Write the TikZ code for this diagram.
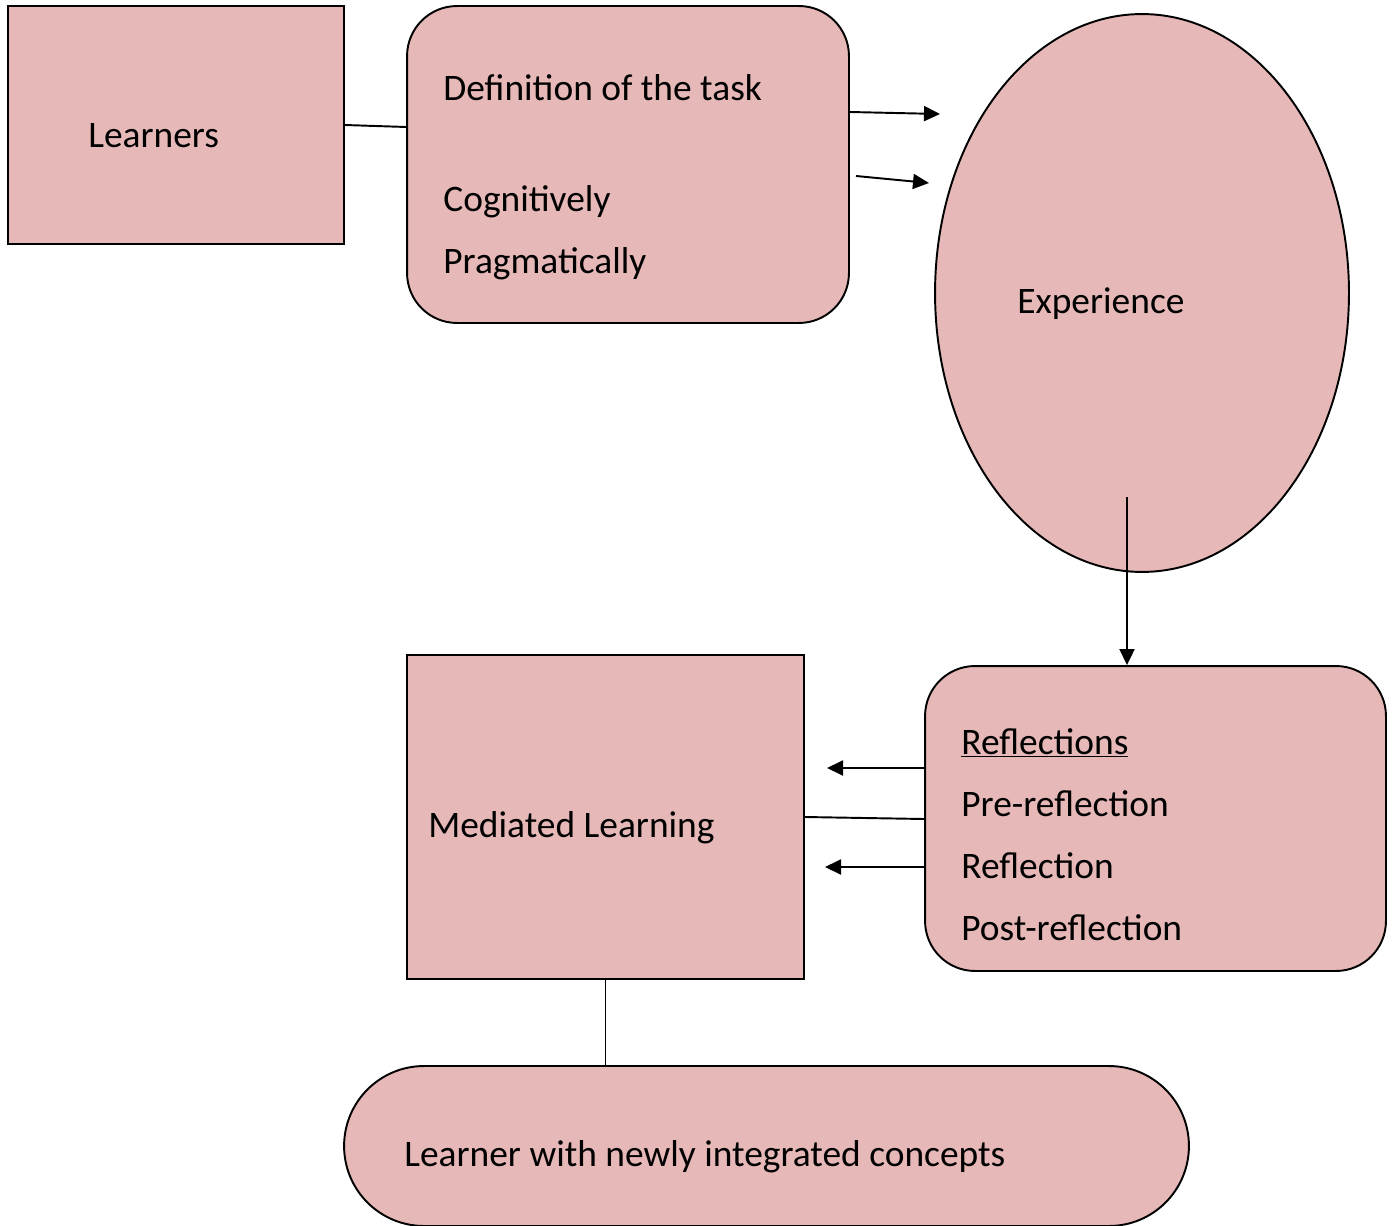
\documentclass[tikz,border=0pt]{standalone}
\usepackage{fontspec}
\setmainfont{Carlito}
\usepackage{tikz}
\usetikzlibrary{arrows.meta, shapes.geometric, calc}

\definecolor{pinkfill}{HTML}{E6B8B7}

\tikzset{
    shapebox/.style={draw=black, fill=pinkfill, line width=1.1pt, inner sep=0pt},
    txt/.style={anchor=west, inner sep=0pt, font=\fontsize{21.3}{25}\selectfont},
    arr/.style={line width=1.1pt, -{Triangle[length=0.32cm,width=0.3cm]}},
    plainline/.style={line width=1.1pt}
}

\begin{document}
\begin{tikzpicture}[x=0.02cm, y=-0.02cm]
        \useasboundingbox (0,0) rectangle (1395,1226);

        % boxes
        \node[shapebox, minimum width=6.72cm, minimum height=4.76cm] (learners) at (176,125) {};
        \node[shapebox, rounded corners=1cm, minimum width=8.84cm, minimum height=6.34cm] (task) at (628,164.5) {};
        \node[shapebox, ellipse, minimum width=8.28cm, minimum height=11.16cm] (exp) at (1142,293) {};
        \node[shapebox, rounded corners=1cm, minimum width=9.22cm, minimum height=6.1cm] (refl) at (1155.5,818.5) {};
        \node[shapebox, minimum width=7.94cm, minimum height=6.48cm] (mediated) at (605.5,817) {};
        \node[shapebox, rounded corners=1.6cm, minimum width=16.9cm, minimum height=3.2cm] (newlearner) at (766.5,1146) {};

        % texts
        \node[txt] (tlearners) at (88,136) {Learners};
        \node[txt] (tdef) at (443,88) {Definition of the task};
        \node[txt] (tcog) at (443,202) {Cognitively};
        \node[txt] (tprag) at (443,264) {Pragmatically};
        \node[txt] (texp) at (1017,304) {Experience};
        \node[txt] (trefl) at (961,743) {\underline{Reflections}};
        \node[txt] (tpre) at (961,804) {Pre-reflection};
        \node[txt] (tref) at (961,866) {Reflection};
        \node[txt] (tpost) at (961,928) {Post-reflection};
        \node[txt] (tmed) at (428,828) {Mediated Learning};
        \node[txt] (tnew) at (404,1157) {Learner with newly integrated concepts};

        % free ends
        \coordinate (a1e) at (940,114);
        \coordinate (a2s) at (856,176);
        \coordinate (a2e) at (929,183);
        \coordinate (dstart) at (1127,497);
        \coordinate (l1e) at (827,768);
        \coordinate (l2e) at (825,867);

        % connectors
        \draw[plainline] (learners.east) -- ($(task.west)+(0,-37.5)$);
        \draw[arr] ($(task.east)+(0,-52.5)$) -- (a1e);
        \draw[arr] (a2s) -- (a2e);
        \draw[arr] (dstart) -- (dstart |- refl.north);
        \draw[arr] (refl.west |- l1e) -- (l1e);
        \draw[arr] (refl.west |- l2e) -- (l2e);
        \draw[plainline] (mediated.east) -- ($(refl.west)+(0,0.5)$);
        \draw[plainline] (mediated.south) -- (mediated.south |- newlearner.north);

    \end{tikzpicture}
\end{document}
